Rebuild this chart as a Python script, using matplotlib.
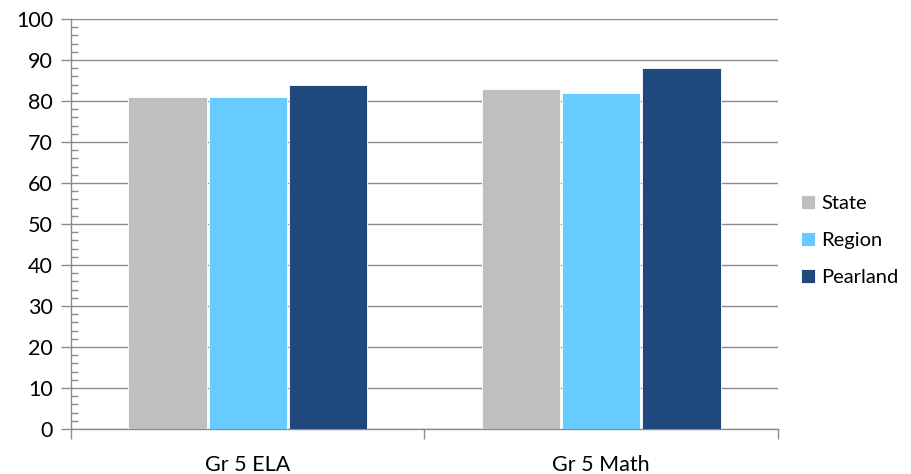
import matplotlib
matplotlib.use("Agg")
import matplotlib.pyplot as plt
import numpy as np
from matplotlib.ticker import MultipleLocator, FixedLocator, NullFormatter

categories = ["Gr 5 ELA", "Gr 5 Math"]
series_names = ["State", "Region", "Pearland"]
state = [81, 83]
region = [81, 82]
pearland = [84, 88]
colors = ["#BFBFBF", "#66CCFF", "#1F497D"]

plt.rcParams['font.family'] = ['Lato', 'DejaVu Sans']

fig = plt.figure(figsize=(9.12, 4.74), dpi=100)
ax = fig.add_axes([71/912, 1-429/474, (778-71)/912, (429-19)/474])

x = np.arange(len(categories))
slot = 0.227
width = 0.221
for i, (name, vals, c) in enumerate(zip(series_names, [state, region, pearland], colors)):
    ax.bar(x + (i-1)*slot, vals, width=width, color=c, label=name, zorder=3,
           edgecolor='white', linewidth=0.6)

ax.set_xlim(-0.5, len(categories)-0.5)
ax.set_ylim(0, 100)
ax.yaxis.set_major_locator(MultipleLocator(10))
ax.yaxis.set_minor_locator(MultipleLocator(2))
ax.grid(axis='y', which='major', color='#8C8C8C', linewidth=1.0, zorder=0)

gray = '#8C8C8C'
for s in ['top', 'right']:
    ax.spines[s].set_visible(False)
for s in ['left', 'bottom']:
    ax.spines[s].set_color(gray)
    ax.spines[s].set_linewidth(1.0)

fs = 15.5
ax.tick_params(axis='y', which='major', direction='out', length=7, color=gray, width=1,
               labelsize=fs, pad=6)
ax.tick_params(axis='y', which='minor', direction='in', length=5, color=gray, width=1)

# category ticks at boundaries, labels centred
ax.xaxis.set_major_locator(FixedLocator([-0.5, 0.5, 1.5]))
ax.xaxis.set_major_formatter(NullFormatter())
ax.xaxis.set_minor_locator(FixedLocator(x))
ax.set_xticklabels(categories, minor=True)
ax.tick_params(axis='x', which='major', direction='out', length=7, color=gray, width=1)
ax.tick_params(axis='x', which='minor', length=0, labelsize=fs, pad=19)

leg = ax.legend(loc='center left', bbox_to_anchor=(1.007, 0.46), frameon=False,
                fontsize=14.5, handlelength=0.7, handleheight=0.7, handletextpad=0.3,
                labelspacing=1.0)

fig.savefig("out.png", dpi=100)
